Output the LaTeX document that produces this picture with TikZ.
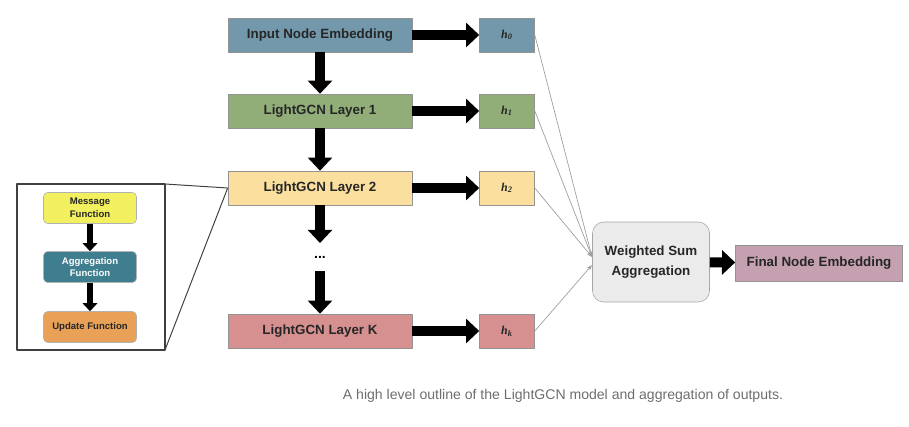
\documentclass[tikz,border=0pt]{standalone}
\usepackage{fontspec}
\setmainfont{Liberation Sans}
\newfontfamily\hfont{Liberation Serif}
\usetikzlibrary{arrows.meta}

\definecolor{inblue}{HTML}{7398AB}
\definecolor{lgreen}{HTML}{91AD78}
\definecolor{lyellow}{HTML}{FBDF9E}
\definecolor{lred}{HTML}{D6908F}
\definecolor{msgyellow}{HTML}{F2F05E}
\definecolor{aggteal}{HTML}{3F7E8E}
\definecolor{updorange}{HTML}{E9A157}
\definecolor{finmauve}{HTML}{C5A0B1}
\definecolor{wsgray}{HTML}{EBEBEB}
\definecolor{capgray}{HTML}{6E6E6E}

\begin{document}
\begin{tikzpicture}[x=0.025cm, y=-0.025cm, line join=round,
		box/.style={draw=gray!85, fill=#1, minimum width=4.6cm, minimum height=0.85cm, inner sep=0pt,
			font=\fontsize{9.5}{11}\selectfont\bfseries, text=black!85},
		hbox/.style={draw=gray!85, fill=#1, minimum width=1.375cm, minimum height=0.85cm, inner sep=0pt,
			font=\hfont\fontsize{8.5}{10}\selectfont\bfseries\itshape, text=black!85},
		small/.style={draw=gray!60, fill=#1, rounded corners=3pt, minimum width=2.325cm, minimum height=0.775cm,
			inner sep=0pt, align=center, font=\fontsize{6.8}{9}\selectfont\bfseries, text=black!85},
		fat/.style={line width=7pt, -{Triangle[length=0.33cm, width=0.6cm]}},
		slim/.style={line width=4pt, -{Triangle[length=0.2cm, width=0.36cm]}},
		thin/.style={draw=gray!75, line width=0.5pt, -{Stealth[length=4pt, width=3pt]}}]
	\useasboundingbox (0,0) rectangle (909,427);
	\def\xl{320}
	\def\xh{507}
	% layers
	\node[box=inblue] (inp) at (\xl,35) {Input Node Embedding};
	\node[box=lgreen] (l1) at (\xl,111) {LightGCN Layer 1};
	\node[box=lyellow] (l2) at (\xl,188) {LightGCN Layer 2};
	\node[inner xsep=1pt, inner ysep=9pt, font=\fontsize{10}{11}\selectfont\bfseries] (dots) at (\xl,257) {...};
	\node[box=lred] (lk) at (\xl,331) {LightGCN Layer K};
	% outputs
	\node[hbox=inblue] (h0) at (\xh,35) {h\textsubscript{0}};
	\node[hbox=lgreen] (h1) at (\xh,111) {h\textsubscript{1}};
	\node[hbox=lyellow] (h2) at (\xh,188) {h\textsubscript{2}};
	\node[hbox=lred] (hk) at (\xh,331) {h\textsubscript{k}};
	\node[draw=gray!70, fill=wsgray, rounded corners=8pt, minimum width=2.925cm, minimum height=2cm,
		align=center, font=\fontsize{9.5}{14}\selectfont\bfseries, text=black!85] (wsa) at (651,262) {Weighted Sum\\Aggregation};
	\node[draw=gray!85, fill=finmauve, minimum width=4.175cm, minimum height=0.9cm, inner sep=0pt,
		font=\fontsize{9.5}{11}\selectfont\bfseries, text=black!85] (fin) at (819,263) {Final Node Embedding};
	\draw[fat] (inp) -- (l1);
	\draw[fat] (l1) -- (l2);
	\draw[fat] (l2) -- (dots);
	\draw[fat] (dots) -- (lk);
	\foreach \a/\b in {inp/h0, l1/h1, l2/h2, lk/hk}
		\draw[fat] (\a) -- (\b);
	\draw[fat] (wsa) -- (fin);
	\coordinate (j1) at (592,257);
	\coordinate (j2) at (592,265);
	\foreach \h in {h0, h1, h2}
		\draw[thin] (\h.east) -- (j1);
	\draw[thin] (hk.east) -- (j2);
	% inset
	\draw[draw=black!75, line width=1.2pt] (17,184) rectangle (165,350);
	\coordinate (ftr) at (165,184);
	\coordinate (fbr) at (165,350);
	\draw[black!75, line width=0.7pt] (ftr) -- (l2.west) (fbr) -- (l2.west);
	\node[small=msgyellow] (msg) at (90,208) {Message\\Function};
	\node[small=aggteal, text=white] (agg) at (90,267) {Aggregation\\Function};
	\node[small=updorange] (upd) at (90,327) {Update Function};
	\draw[slim] (msg) -- (agg);
	\draw[slim] (agg) -- (upd);
	% caption
	\node[text=capgray, font=\fontsize{10}{12}\selectfont] (cap) at (563,396)
		{A high level outline of the LightGCN model and aggregation of outputs.};
\end{tikzpicture}
\end{document}
